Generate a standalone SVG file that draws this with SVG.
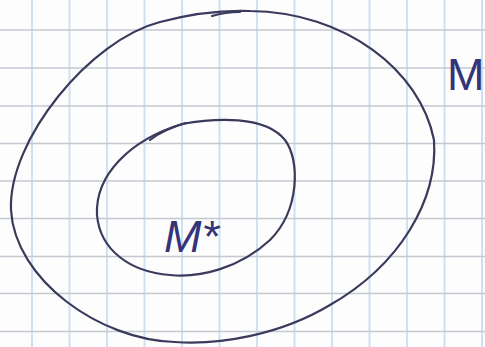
<svg xmlns="http://www.w3.org/2000/svg" width="485" height="347" viewBox="0 0 485 347">
<style>
.v{stroke:#cfe0f2;stroke-width:2}
.h{stroke:#c4c8d0;stroke-width:1.6}
.pen{fill:none;stroke:#3a3a5c;stroke-width:2.2;stroke-linecap:round;stroke-linejoin:round}
.lbl{font-family:"Liberation Sans",Arial,sans-serif;fill:#34347a;font-size:45px}
.it{font-style:italic}
</style>
<rect width="485" height="347" fill="#fdfdfd"/>
<g id="grid">
<line class="v" x1="32" y1="0" x2="32" y2="347"/>
<line class="v" x1="69.5" y1="0" x2="69.5" y2="347"/>
<line class="v" x1="107" y1="0" x2="107" y2="347"/>
<line class="v" x1="144.5" y1="0" x2="144.5" y2="347"/>
<line class="v" x1="182" y1="0" x2="182" y2="347"/>
<line class="v" x1="219.5" y1="0" x2="219.5" y2="347"/>
<line class="v" x1="257" y1="0" x2="257" y2="347"/>
<line class="v" x1="294.5" y1="0" x2="294.5" y2="347"/>
<line class="v" x1="332" y1="0" x2="332" y2="347"/>
<line class="v" x1="369.5" y1="0" x2="369.5" y2="347"/>
<line class="v" x1="407" y1="0" x2="407" y2="347"/>
<line class="v" x1="444.5" y1="0" x2="444.5" y2="347"/>
<line class="v" x1="482" y1="0" x2="482" y2="347"/>
<line class="h" x1="0" y1="30" x2="485" y2="30"/>
<line class="h" x1="0" y1="68" x2="485" y2="68"/>
<line class="h" x1="0" y1="106" x2="485" y2="106"/>
<line class="h" x1="0" y1="143.5" x2="485" y2="143.5"/>
<line class="h" x1="0" y1="181" x2="485" y2="181"/>
<line class="h" x1="0" y1="218.5" x2="485" y2="218.5"/>
<line class="h" x1="0" y1="256.5" x2="485" y2="256.5"/>
<line class="h" x1="0" y1="293.5" x2="485" y2="293.5"/>
<line class="h" x1="0" y1="331.5" x2="485" y2="331.5"/>
</g>
<g id="outer-set">
<path class="pen" d="M 250 11 C 345 12 420 70 434 140 C 438 200 400 265 330 305 C 280 335 220 345 175 342 C 100 340 15 280 11 210 C 8 140 90 40 160 22 C 190 14 220 10 250 11"/>
<path class="pen" d="M 212 16 C 222 13 232 12 240 12"/>
<text class="lbl" x="447" y="90">M</text>
</g>
<g id="inner-set">
<path class="pen" d="M 182 124 C 215 118 265 115 285 140 C 300 160 300 210 270 240 C 240 268 200 278 170 275 C 130 272 100 250 97 215 C 95 175 130 140 182 124"/>
<path class="pen" d="M 150 140 C 160 132 172 127 186 123"/>
<text class="lbl it" x="164" y="252">M*</text>
</g>
</svg>
